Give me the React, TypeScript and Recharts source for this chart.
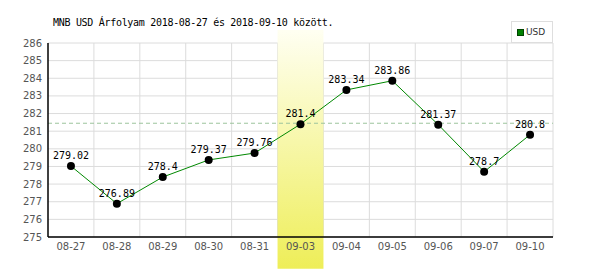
import React from 'react';
import {
  ComposedChart,
  Line,
  XAxis,
  YAxis,
  CartesianGrid,
  ReferenceArea,
  ReferenceLine,
  LabelList,
} from 'recharts';

const categories = ['08-27', '08-28', '08-29', '08-30', '08-31', '09-03', '09-04', '09-05', '09-06', '09-07', '09-10'];
const usdValues = [279.02, 276.89, 278.4, 279.37, 279.76, 281.4, 283.34, 283.86, 281.37, 278.7, 280.8];
const yTicks = [275, 276, 277, 278, 279, 280, 281, 282, 283, 284, 285, 286];
const highlightCategory = '09-03';
const referenceValue = 281.45;
const titleText = 'MNB USD Árfolyam 2018-08-27 és 2018-09-10 között.';
const seriesName = 'USD';

const data = categories.map((c, i) => ({ cat: c, value: usdValues[i] }));

export default function App() {
  const vGen = ({ offset }: any) =>
    categories.map((_, i) => offset.left + ((i + 1) * offset.width) / categories.length);

  return (
    <div style={{ position: 'absolute', left: 0, top: 0, width: 600, height: 270, background: '#fff' }}>
      <ComposedChart
        width={600}
        height={270}
        data={data}
        margin={{ top: 43, right: 47, bottom: 2, left: 0 }}
      >
        <defs>
          <linearGradient id="bandGrad" x1="0" y1="0" x2="0" y2="1">
            <stop offset="0%" stopColor="#fffff2" />
            <stop offset="100%" stopColor="#eeee58" />
          </linearGradient>
        </defs>
        <CartesianGrid stroke="#dcdcdc" verticalCoordinatesGenerator={vGen} />
        <ReferenceArea
          x1={highlightCategory}
          x2={highlightCategory}
          y1={273.2}
          y2={286.74}
          ifOverflow="visible"
          fill="url(#bandGrad)"
          fillOpacity={1}
          stroke="none"
        />
        <ReferenceLine y={referenceValue} stroke="#9cc49c" strokeDasharray="4 3" />
        <XAxis
          dataKey="cat"
          scale="band"
          height={31}
          axisLine={{ stroke: '#000', strokeWidth: 1.5 }}
          tickLine={false}
          tickSize={3}
          tickMargin={3}
          interval={0}
          tick={{ fill: '#555', fontSize: 10, fontFamily: 'DejaVu Sans' }}
        />
        <YAxis
          domain={[275, 286]}
          ticks={yTicks}
          allowDataOverflow
          width={48}
          axisLine={{ stroke: '#000', strokeWidth: 1.5 }}
          tickLine={false}
          tickSize={4}
          tickMargin={2}
          interval={0}
          tick={{ fill: '#555', fontSize: 10, fontFamily: 'DejaVu Sans' }}
        />
        <Line
          type="linear"
          dataKey="value"
          stroke="#008800"
          strokeWidth={1}
          dot={{ r: 4, fill: '#000', stroke: 'none' }}
          activeDot={false}
          isAnimationActive={false}
        >
          <LabelList
            dataKey="value"
            position="top"
            offset={7}
            style={{ fill: '#000', fontSize: 10, fontFamily: 'DejaVu Sans Mono' }}
          />
        </Line>
      </ComposedChart>
      <div
        style={{
          position: 'absolute',
          left: 53,
          top: 17,
          fontFamily: 'DejaVu Sans Mono',
          fontSize: 10,
          letterSpacing: '-0.3px',
          color: '#000',
          whiteSpace: 'nowrap',
        }}
      >
        {titleText}
      </div>
      <div
        style={{
          position: 'absolute',
          left: 511,
          top: 21,
          width: 40,
          height: 20,
          border: '1px solid #dedede',
          background: '#fff',
          display: 'flex',
          alignItems: 'center',
          fontFamily: 'DejaVu Sans',
          fontSize: 9,
          color: '#333',
        }}
      >
        <span style={{ display: 'inline-block', width: 5, height: 5, background: '#008000', border: '0.5px solid #004400', marginLeft: 5, marginRight: 2 }} />
        {seriesName}
      </div>
    </div>
  );
}
